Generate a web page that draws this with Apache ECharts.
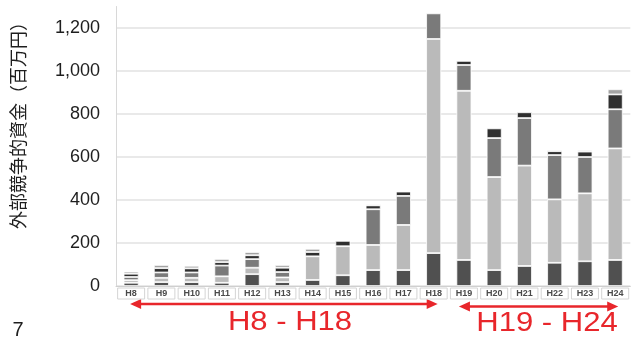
<!DOCTYPE html>
<html>
<head>
<meta charset="utf-8">
<style>
  html, body { margin: 0; padding: 0; background: #fff; }
  #chart { width: 632px; height: 343px; }
</style>
<script src="https://cdn.jsdelivr.net/npm/echarts@6/dist/echarts.min.js"></script>
</head>
<body>
<div id="chart"></div>
<script>
// Fiscal years (Heisei) on the category axis
const years = ['H8','H9','H10','H11','H12','H13','H14','H15','H16','H17','H18','H19','H20','H21','H22','H23','H24'];

// Stacked funding components, million yen (bottom to top)
const seg1 = [15, 18, 18, 15, 55, 18, 28, 50, 74, 74, 153, 121, 74, 93, 108, 115, 121];
const seg2 = [12, 20, 20, 30, 30, 22, 110, 135, 117, 210, 996, 787, 433, 467, 295, 316, 519];
const seg3 = [15, 25, 25, 50, 40, 25, 0, 0, 166, 135, 119, 120, 181, 221, 206, 169, 182];
const seg4 = [15, 20, 19, 16, 18, 20, 20, 25, 18, 20, 0, 19, 45, 27, 18, 25, 69];
const seg5 = [10, 15, 12, 15, 15, 13, 15, 3, 5, 4, 0, 0, 0, 0, 6, 6, 24];

const yTicks = [0, 200, 400, 600, 800, 1000, 1200];

const periodA = ['H8', 'H18', 'H8 - H18'];
const periodB = ['H19', 'H24', 'H19 - H24'];

const segColors = ['#505050', '#bababa', '#7a7a7a', '#2f2f2f', '#a3a3a3'];

const chart = echarts.init(document.getElementById('chart'), null, { renderer: 'canvas' });

function barSeries(data, color) {
  return {
    type: 'bar',
    stack: 'total',
    barWidth: 15,
    data: data.map(v => (v > 0 ? v : null)),
    itemStyle: { color: color, borderColor: '#ffffff', borderWidth: 0.8 },
    emphasis: { disabled: true },
    animation: false
  };
}

chart.setOption({
  animation: false,
  grid: { left: 116, width: 521, top: 6.5, height: 279.5 },
  xAxis: {
    type: 'category',
    data: years,
    axisLine: { show: true, lineStyle: { color: '#cfcfcf', width: 1 } },
    axisTick: { show: false },
    axisLabel: {
      interval: 0,
      margin: 2,
      fontSize: 9,
      fontWeight: 'bold',
      fontFamily: 'Liberation Sans, Arial, sans-serif',
      color: '#4a4a4a',
      width: 27,
      height: 10,
      lineHeight: 10,
      align: 'center',
      padding: [1, 0, 0, 0],
      borderColor: '#d4d4d4',
      borderWidth: 1
    }
  },
  yAxis: {
    type: 'value',
    min: yTicks[0],
    max: 1300,
    interval: 200,
    axisLine: { show: true, lineStyle: { color: '#d8d8d8' } },
    axisTick: { show: false },
    axisLabel: {
      showMaxLabel: false,
      margin: 16,
      fontSize: 18,
      fontFamily: 'Liberation Sans, Arial, sans-serif',
      color: '#1e1e1e',
      formatter: v => (yTicks.indexOf(v) >= 0 ? v.toLocaleString('en-US') : '')
    },
    splitLine: { show: true, showMaxLine: false, lineStyle: { color: '#e2e2e2', width: 1.5 } }
  },
  series: [
    barSeries(seg1, segColors[0]),
    barSeries(seg2, segColors[1]),
    barSeries(seg3, segColors[2]),
    barSeries(seg4, segColors[3]),
    barSeries(seg5, segColors[4])
  ]
});

// Period annotations: red double-headed arrows under the category axis
const red = '#e8262b';
function xOf(cat) { return chart.convertToPixel({ xAxisIndex: 0 }, cat); }

function arrow(x1, x2, y) {
  const h = 11, w = 5;
  return [
    { type: 'line', shape: { x1: x1 + h - 2, y1: y, x2: x2 - h + 2, y2: y }, style: { stroke: red, lineWidth: 2.5 }, silent: true },
    { type: 'polygon', shape: { points: [[x1, y], [x1 + h, y - w], [x1 + h, y + w]] }, style: { fill: red }, silent: true },
    { type: 'polygon', shape: { points: [[x2, y], [x2 - h, y - w], [x2 - h, y + w]] }, style: { fill: red }, silent: true }
  ];
}

const aStart = xOf(periodA[0]) - 1, aEnd = xOf(periodA[1]) + 4;
const bStart = xOf(periodB[0]) - 5, bEnd = xOf(periodB[1]) + 3;

const periodFont = '27px "Liberation Sans", Arial, sans-serif';

const graphics = []
  .concat(arrow(aStart, aEnd, 304))
  .concat(arrow(bStart, bEnd, 306.5))
  .concat([
    {
      type: 'text', x: 290, y: 323, scaleX: 1.15,
      style: { text: periodA[2], fill: red, font: periodFont, align: 'center', verticalAlign: 'middle' },
      silent: true
    },
    {
      type: 'text', x: 547, y: 324, scaleX: 1.15,
      style: { text: periodB[2], fill: red, font: periodFont, align: 'center', verticalAlign: 'middle' },
      silent: true
    },
    {
      type: 'text', x: 18, y: 121, rotation: Math.PI / 2,
      style: { text: '外部競争的資金（百万円）', fill: '#1e1e1e', font: '18px "Noto Sans CJK JP", sans-serif', align: 'center', verticalAlign: 'middle' },
      silent: true
    },
    {
      type: 'text', x: 18, y: 330,
      style: { text: '7', fill: '#1e1e1e', font: '20px "Liberation Sans", Arial, sans-serif', align: 'center', verticalAlign: 'middle' },
      silent: true
    }
  ]);

chart.setOption({ graphic: graphics });
</script>
</body>
</html>
